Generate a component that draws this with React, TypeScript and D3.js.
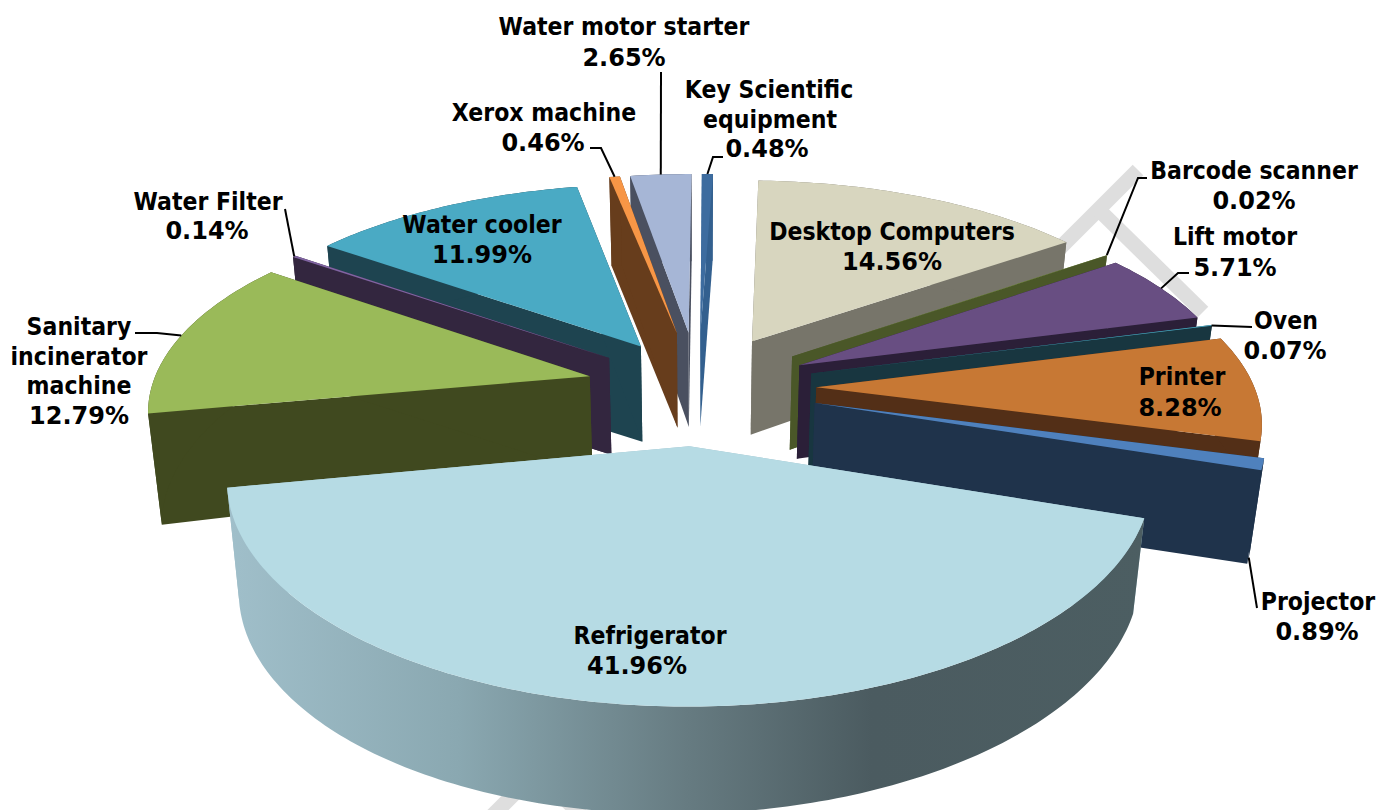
import React from "react";
import * as d3 from "d3";

const categories = [
  "Desktop Computers", "Barcode scanner", "Lift motor", "Oven", "Printer", "Projector",
  "Refrigerator", "Sanitary incinerator machine", "Water Filter", "Water cooler",
  "Xerox machine", "Water motor starter", "Key Scientific equipment",
];
const shares = [14.56, 0.02, 5.71, 0.07, 8.28, 0.89, 41.96, 12.79, 0.14, 11.99, 0.46, 2.65, 0.48];
const explodeBy = [0.27, 0.27, 0.26, 0.27, 0.27, 0.275, 0.285, 0.255, 0.255, 0.25, 0.285, 0.285, 0.285];
const topColors = ["#d8d6bf", "#9bbb59", "#684e82", "#4bacc6", "#c77834", "#4f81bd", "#b6dbe4", "#9aba59", "#8064a2", "#4aaac4", "#f79646", "#a6b6d6", "#3d6c9f"];
const wallColors = ["#77756a", "#4a5728", "#2b1f38", "#183640", "#532f17", "#1f334b", "#9fbfca", "#40491f", "#33263f", "#1e4450", "#673d1c", "#4a5060", "#33608f"];

// Label text lines with their centre x and vertical centre
const labelLayout: { lines: [string, number, number][]; leader?: [number, number][]; drop?: number }[] = [
  { lines: [["Desktop Computers", 892, 232], ["14.56%", 892, 262]] },
  { lines: [["Barcode scanner", 1254, 171], ["0.02%", 1254, 201]], leader: [[1147, 178], [1138, 178]] },
  { lines: [["Lift motor", 1235, 237], ["5.71%", 1235, 268]], leader: [[1189, 273], [1178, 273]] },
  { lines: [["Oven", 1286, 321], ["0.07%", 1285, 351]], leader: [[1252, 327]] },
  { lines: [["Printer", 1182, 377], ["8.28%", 1180, 408]] },
  { lines: [["Projector", 1318, 602], ["0.89%", 1317, 632]], leader: [[1257, 608]], drop: 1 },
  { lines: [["Refrigerator", 650, 636], ["41.96%", 637, 666]] },
  { lines: [["Sanitary", 79, 327], ["incinerator", 79, 357], ["machine", 79, 386], ["12.79%", 79, 416]], leader: [[135, 333], [157, 333]] },
  { lines: [["Water Filter", 208, 202], ["0.14%", 207, 231]], leader: [[285, 209]] },
  { lines: [["Water cooler", 482, 225], ["11.99%", 482, 255]] },
  { lines: [["Xerox machine", 544, 113], ["0.46%", 543, 143]], leader: [[590, 148], [601, 148]] },
  { lines: [["Water motor starter", 624, 27], ["2.65%", 624, 58]], leader: [[661, 72]] },
  { lines: [["Key Scientific", 769, 90], ["equipment", 770, 120], ["0.48%", 767, 149]], leader: [[723, 157], [713, 157]] },
];

// Faint background strokes behind the pie
const backdropStrokes: [number, number, number, number][] = [
  [1138, 170, 490, 818],
  [1100, 211, 1203, 312],
  [560, 794, 590, 824],
];

// Projection of the pie disc: perspective foreshortening plus a wall drop
const CX = 698, CY = 387, SX = 438, SY = 199, KX = 0.145, KY = 0.156;
const WALL = 96, WALL_KY = 0.08, WALL_KX = 0.08, WALL_BULGE = 0.03, BASE_SCALE = 0.975;
const ROTATION = (2 * Math.PI) / 180;

type Pt = [number, number];
const project = (x: number, y: number): Pt => [
  CX + (SX * x) / (1 + KX * y),
  CY - (SY * y) / (1 + KY * y),
];
const projectBase = (x: number, y: number): Pt => [
  CX + ((SX * x) / (1 + KX * y)) * BASE_SCALE,
  CY - (SY * y) / (1 + KY * y) +
    (WALL / (1 + WALL_KY * y)) * (1 - WALL_KX * x) * (1 + WALL_BULGE * x * x),
];

const pieLayout = d3.pie<number>().sort(null).value((d) => d)
  .startAngle(ROTATION).endAngle(ROTATION + 2 * Math.PI);
const lineGen = d3.line<Pt>();

export default function App() {
  const arcs = pieLayout(shares);
  const slices = arcs.map((a, i) => {
    const mid = (a.startAngle + a.endAngle) / 2;
    const e = explodeBy[i];
    const ox = Math.sin(mid) * e, oy = Math.cos(mid) * e;
    const at = (t: number): [number, number] => [ox + Math.sin(t), oy + Math.cos(t)];
    const n = Math.max(2, Math.ceil((a.endAngle - a.startAngle) * 60));
    const thetas = d3.range(n + 1).map((k) => a.startAngle + ((a.endAngle - a.startAngle) * k) / n);
    const rim = thetas.map((t) => at(t));
    const apex: [number, number] = [ox, oy];
    const top = [project(...apex), ...rim.map((p) => project(...p))];
    const wallA = [project(...apex), project(...rim[0]), projectBase(...rim[0]), projectBase(...apex)];
    const wallB = [project(...apex), project(...rim[n]), projectBase(...rim[n]), projectBase(...apex)];
    const outer = [...rim.map((p) => project(...p)), ...rim.slice().reverse().map((p) => projectBase(...p))];
    return { i, depth: Math.cos(mid), top, wallA, wallB, outer, rimMid: at(mid) };
  });
  const order = slices.slice().sort((a, b) => b.depth - a.depth);

  return (
    <svg width={1378} height={810} viewBox="0 0 1378 810"
      style={{ position: "absolute", left: 0, top: 0, display: "block", background: "#fff" }}>
      <defs>
        <linearGradient id="fridgeWall" gradientUnits="userSpaceOnUse" x1={228} y1={0} x2={1148} y2={0}>
          <stop offset="0" stopColor="#a0bfca" />
          <stop offset="0.25" stopColor="#8aa8b1" />
          <stop offset="0.5" stopColor="#667b81" />
          <stop offset="0.7" stopColor="#4b5b60" />
          <stop offset="1" stopColor="#4c5e62" />
        </linearGradient>
      </defs>
      {backdropStrokes.map(([x1, y1, x2, y2], i) => (
        <line key={i} x1={x1} y1={y1} x2={x2} y2={y2} stroke="#dedede" strokeWidth={15} />
      ))}
      {order.map((s) => (
        <g key={s.i}>
          <path d={lineGen(s.wallA) + "Z"} fill={wallColors[s.i]} />
          <path d={lineGen(s.wallB) + "Z"} fill={wallColors[s.i]} />
          <path d={lineGen(s.outer) + "Z"} fill={s.i === 6 ? "url(#fridgeWall)" : wallColors[s.i]} />
          <path d={lineGen(s.top) + "Z"} fill={topColors[s.i]} />
        </g>
      ))}
      {labelLayout.map((l, i) => {
        if (!l.leader) return null;
        const rm = slices[i].rimMid;
        const end = l.drop ? projectBase(...rm) : project(...rm);
        return <path key={i} d={lineGen([...l.leader, end] as Pt[]) ?? ""} fill="none" stroke="#000" strokeWidth={2} />;
      })}
      <g fontFamily="'DejaVu Sans', sans-serif" fontWeight={700} fontSize={24} textAnchor="middle" fill="#000">
        {labelLayout.flatMap((l, i) =>
          l.lines.map(([t, x, y], j) => (
            <text key={`${i}-${j}`} transform={`translate(${x} ${y}) scale(${t.endsWith("%") ? 1 : 0.92} 1)`} dominantBaseline="central">{t}</text>
          ))
        )}
      </g>
    </svg>
  );
}
